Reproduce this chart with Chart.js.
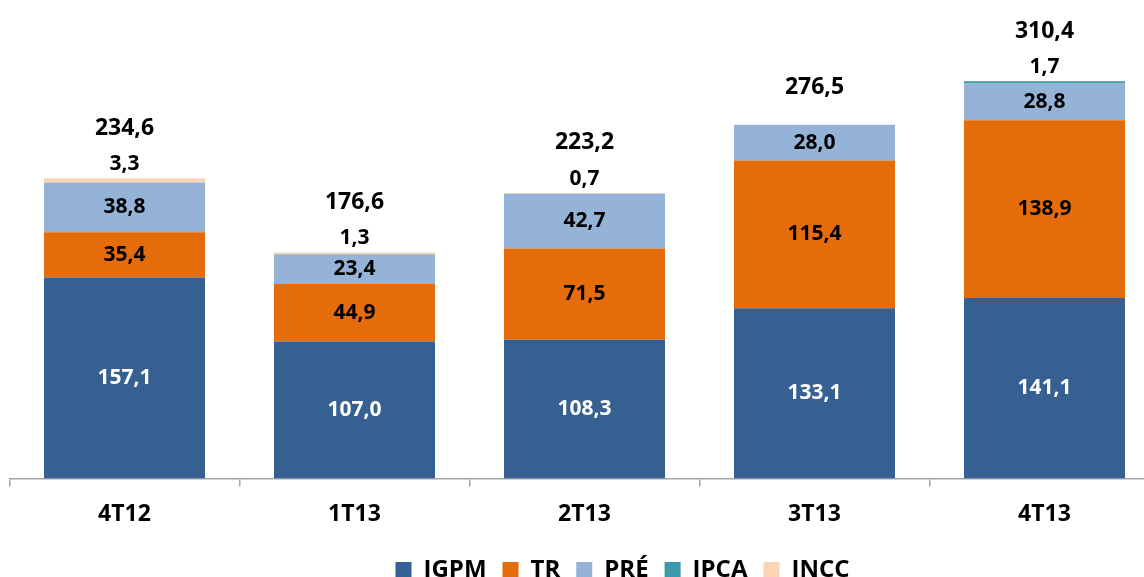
<!DOCTYPE html>
<html>
<head>
<meta charset="utf-8">
<script src="https://cdn.jsdelivr.net/npm/chart.js@4.4.1/dist/chart.umd.min.js"></script>
<style>
    body { margin: 0; background: #fff; }
    #wrap { width: 1144px; height: 577px; overflow: hidden; }
</style>
</head>
<body>
<div id="wrap"><canvas id="carteira" width="1170" height="577"></canvas></div>
<script>
const quarters = ['4T12', '1T13', '2T13', '3T13', '4T13'];
const igpm = [157.1, 107.0, 108.3, 133.1, 141.1];
const tr = [35.4, 44.9, 71.5, 115.4, 138.9];
const pre = [38.8, 23.4, 42.7, 28.0, 28.8];
const ipca = [0, 0, 0, 0, 1.7];
const incc = [3.3, 1.3, 0.7, 0, 0];
const totals = [234.6, 176.6, 223.2, 276.5, 310.4];

const FONT = '"Open Sans", "Noto Sans", sans-serif';

function fmt(v) {
    return v.toFixed(1).replace('.', ',');
}

// value labels: inside the big segments, small ones and totals above the bar
const valueLabels = {
    id: 'valueLabels',
    afterDatasetsDraw(chart) {
        const ctx = chart.ctx;
        ctx.save();
        ctx.textAlign = 'center';
        ctx.textBaseline = 'middle';
        const metas = chart.data.datasets.map((d, i) => chart.getDatasetMeta(i));
        quarters.forEach((q, idx) => {
            let top = null;
            let small = null;
            metas.forEach((meta, di) => {
                const bar = meta.data[idx];
                const v = chart.data.datasets[di].data[idx];
                if (!v) return;
                if (top === null || bar.y < top) top = bar.y;
                if (di < 3) {
                    ctx.font = 'bold 21px ' + FONT;
                    ctx.fillStyle = di === 0 ? '#ffffff' : '#000000';
                    ctx.fillText(fmt(v), bar.x, (bar.y + bar.base) / 2);
                } else {
                    small = v;
                }
            });
            const x = metas[0].data[idx].x;
            ctx.fillStyle = '#000000';
            if (small !== null) {
                ctx.font = 'bold 21px ' + FONT;
                ctx.fillText(fmt(small), x, top - 14);
                ctx.font = 'bold 23px ' + FONT;
                ctx.fillText(fmt(totals[idx]), x, top - 50);
            } else {
                ctx.font = 'bold 23px ' + FONT;
                ctx.fillText(fmt(totals[idx]), x, top - 37);
            }
        });
        ctx.restore();
    }
};

// legend sits a bit right of the plot centre in the original
const legendShift = {
    id: 'legendShift',
    afterLayout(chart) {
        chart.legend.left += 38;
        chart.legend.right += 38;
    }
};

const ctx = document.getElementById('carteira').getContext('2d');
new Chart(ctx, {
    type: 'bar',
    data: {
        labels: quarters,
        datasets: [
            { label: 'IGPM', data: igpm, backgroundColor: '#376092' },
            { label: 'TR', data: tr, backgroundColor: '#E46C0A' },
            { label: 'PRÉ', data: pre, backgroundColor: '#95B3D7' },
            { label: 'IPCA', data: ipca, backgroundColor: '#3E97AD' },
            { label: 'INCC', data: incc, backgroundColor: '#FCD5B5' }
        ]
    },
    options: {
        responsive: false,
        animation: false,
        barPercentage: 0.7,
        categoryPercentage: 1.0,
        layout: {
            padding: { left: 9.5, right: 10.5, top: 0, bottom: -15 }
        },
        scales: {
            x: {
                stacked: true,
                grid: {
                    drawOnChartArea: false,
                    tickLength: 8,
                    color: '#A6A6A6',
                    lineWidth: 1.5
                },
                border: { color: '#A6A6A6', width: 1.5 },
                ticks: {
                    color: '#000000',
                    padding: 14,
                    font: { family: FONT, size: 23, weight: 'bold' }
                }
            },
            y: {
                stacked: true,
                display: false,
                min: 0,
                max: 374
            }
        },
        plugins: {
            legend: {
                position: 'bottom',
                labels: {
                    boxWidth: 16,
                    boxHeight: 16,
                    padding: 16,
                    color: '#000000',
                    font: { family: FONT, size: 24, weight: 'bold' }
                }
            },
            tooltip: { enabled: false }
        }
    },
    plugins: [valueLabels, legendShift]
});
</script>
</body>
</html>
